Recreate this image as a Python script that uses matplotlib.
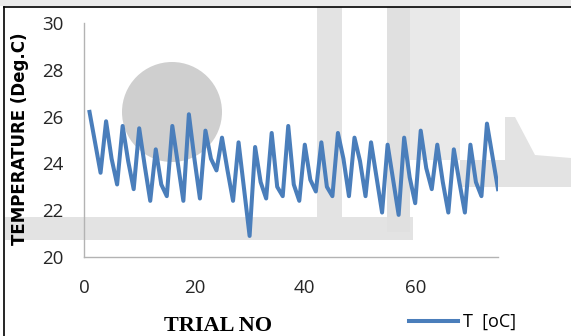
import numpy as np
import matplotlib.pyplot as plt
from matplotlib.patches import Rectangle, Ellipse, Polygon
from matplotlib.lines import Line2D

trial = np.arange(1, 76)
temp = [26.2, 24.9, 23.6, 25.8, 24.2, 23.1, 25.6, 24.1, 22.9, 25.5,
        23.9, 22.4, 24.6, 23.1, 22.6, 25.6, 24.0, 22.4, 26.1, 24.2,
        22.5, 25.4, 24.2, 23.7, 25.1, 23.7, 22.4, 24.9, 22.9, 20.9,
        24.7, 23.2, 22.5, 25.3, 23.0, 22.6, 25.6, 23.1, 22.4, 24.8,
        23.3, 22.8, 24.9, 23.0, 22.6, 25.3, 24.2, 22.6, 25.1, 24.1,
        22.6, 24.9, 23.4, 21.9, 24.8, 23.3, 21.8, 25.1, 23.4, 22.3,
        25.4, 23.8, 22.9, 24.8, 23.2, 21.9, 24.6, 23.2, 21.9, 24.8,
        23.2, 22.6, 25.7, 24.3, 22.9]
xticks = [0, 20, 40, 60]
yticks = [20, 22, 24, 26, 28, 30]

W, H = 571, 336


def fx(px):
    return px / W


def fy(py):
    return 1 - py / H


def wm_rect(x0, y0, x1, y1, c):
    # light grey watermark block, pixel coords from top-left
    fig.add_artist(Rectangle((fx(x0), fy(y1)), fx(x1 - x0), (y1 - y0) / H,
                             transform=fig.transFigure, color=c, zorder=0, lw=0))


fig = plt.figure(figsize=(W / 100, H / 100), dpi=100)
fig.patch.set_facecolor('white')

# faint watermark behind the chart
wm_rect(0, 0, W, 6, '#ebebeb')
fig.add_artist(Ellipse((fx(172), fy(112)), 100 / W, 100 / H, transform=fig.transFigure,
                       color='#cfcfcf', zorder=0, lw=0))
wm_rect(5, 217, 413, 240, '#e3e3e3')
wm_rect(317, 7, 342, 220, '#e3e3e3')
wm_rect(387, 7, 410, 232, '#e0e0e0')
wm_rect(410, 7, 460, 160, '#e9e9e9')
fig.add_artist(Polygon([(fx(460), fy(160)), (fx(505), fy(160)), (fx(505), fy(117)), (fx(515), fy(117)),
                        (fx(535), fy(155)), (fx(571), fy(158)), (fx(571), fy(187)), (fx(460), fy(187))],
                       closed=True, transform=fig.transFigure, color='#e3e3e3', zorder=0, lw=0))

# black frame of the pasted picture
fig.add_artist(Line2D([fx(4), 1], [fy(7), fy(7)], transform=fig.transFigure, color='black', lw=1.2))
fig.add_artist(Line2D([fx(4), fx(4)], [0, fy(7)], transform=fig.transFigure, color='black', lw=1.2))

ax = fig.add_axes([fx(84), fy(257), fx(498 - 84), (257 - 23) / H])
ax.set_facecolor('none')

ax.plot(trial, temp, color='#4a7ebb', lw=2.9, label='T  [oC]', solid_joinstyle='round')

ax.set_xlim(0, 75)
ax.set_ylim(20, 30)
ax.set_xticks(xticks)
ax.set_yticks(yticks)
for s in ['top', 'right']:
    ax.spines[s].set_visible(False)
for s in ['left', 'bottom']:
    ax.spines[s].set_color('#b3b3b3')
    ax.spines[s].set_linewidth(1.0)
ax.tick_params(axis='both', length=0, labelsize=13.5, colors='#262626')
ax.tick_params(axis='y', pad=15)
ax.tick_params(axis='x', pad=16)
for lab in ax.get_xticklabels() + ax.get_yticklabels():
    lab.set_family('Open Sans')

fig.text(fx(20), fy(139), 'TEMPERATURE (Deg.C)', rotation=90, ha='center', va='center',
         fontsize=12, fontweight='bold', family='DejaVu Sans')
fig.text(fx(218), fy(331), 'TRIAL NO', ha='center', va='baseline',
         fontsize=16, fontweight='bold', family='Liberation Serif')

ax.legend(loc='center left', bbox_to_anchor=(fx(400), fy(322)), bbox_transform=fig.transFigure,
          frameon=False, handlelength=2.7, handletextpad=0.3, borderpad=0,
          prop={'family': 'Open Sans', 'size': 13})

fig.savefig('out.png', dpi=100)
